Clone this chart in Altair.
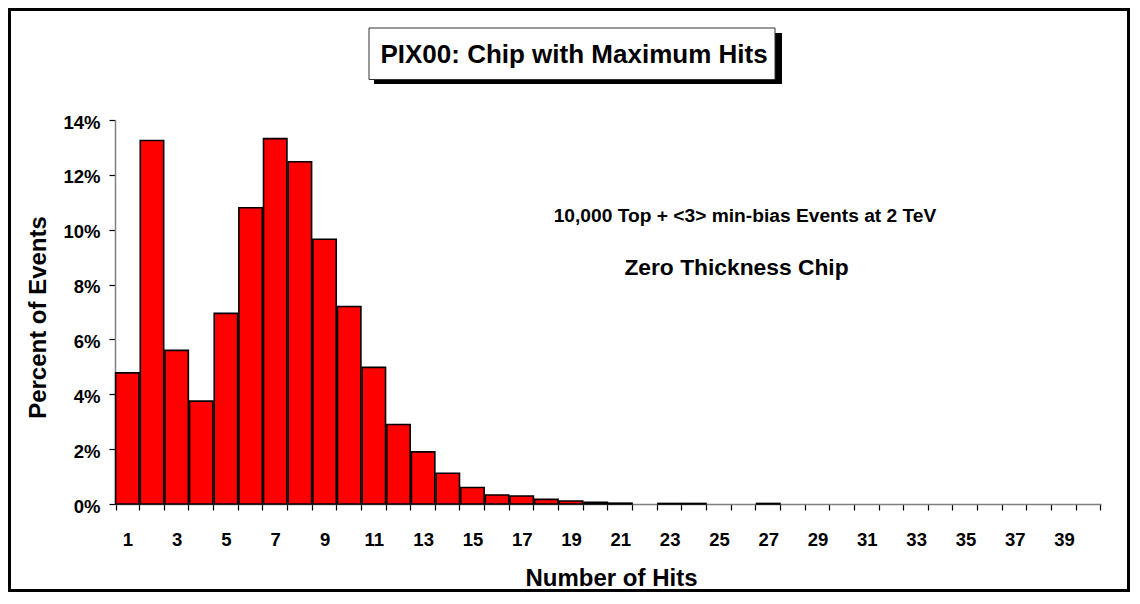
import altair as alt
import pandas as pd

# ---- data ----
hits = list(range(1, 41))
pct = [4.78, 13.25, 5.60, 3.75, 6.95, 10.80, 13.32, 12.48, 9.65, 7.20,
       4.98, 2.90, 1.90, 1.12, 0.60, 0.33, 0.29, 0.17, 0.11, 0.06,
       0.03, 0.00, 0.02, 0.02, 0.00, 0.00, 0.02, 0.00, 0.00, 0.00,
       0.00, 0.00, 0.00, 0.00, 0.00, 0.00, 0.00, 0.00, 0.00, 0.00]
y_ticks = [0, 2, 4, 6, 8, 10, 12, 14]
title_text = ["PIX00: Chip with Maximum Hits"]
note1 = ["10,000 Top + <3> min-bias Events at 2 TeV"]
note2 = ["Zero Thickness Chip"]

df = pd.DataFrame({"hits": hits, "pct": pct})
one = pd.DataFrame({"k": [0]})

FONT = "Liberation Sans"
W, H = 986, 384
PAD = {"left": 107, "top": 112, "right": 29, "bottom": 88}
TOTAL_W = PAD["left"] + W + PAD["right"]
TOTAL_H = PAD["top"] + H + PAD["bottom"]

bars = alt.Chart(df).transform_filter("datum.pct > 0").mark_bar(
    color="#ff0000", stroke="black", strokeWidth=1.6
).encode(
    x=alt.X(
        "hits:O",
        scale=alt.Scale(domain=hits, paddingInner=0.05, paddingOuter=0.025),
        axis=alt.Axis(
            title="Number of Hits",
            labelExpr="datum.value % 2 == 1 ? datum.label : ''",
            labelOverlap=False,
            tickBand="extent",
            labelAngle=0,
            labelPadding=20,
            titleX=496, titleY=81, titleAlign="center", titleBaseline="alphabetic",
        ),
    ),
    y=alt.Y(
        "pct:Q",
        scale=alt.Scale(domain=[0, 14], nice=False),
        axis=alt.Axis(
            values=y_ticks,
            labelExpr="datum.value + '%'",
            title="Percent of Events",
            labelPadding=9,
            labelOffset=2,
            titleAngle=270, titleX=-70, titleY=197,
            titleAlign="center", titleBaseline="alphabetic",
        ),
    ),
)

# outer frame around the whole figure
frame = alt.Chart(one).mark_rect(fillOpacity=0, stroke="black", strokeWidth=3).encode(
    x=alt.value(-PAD["left"] + 1.5), x2=alt.value(TOTAL_W - PAD["left"] - 1.5),
    y=alt.value(-PAD["top"] + 1.5), y2=alt.value(TOTAL_H - PAD["top"] - 1.5),
)

# title box with drop shadow
shadow = alt.Chart(one).mark_rect(color="black").encode(
    x=alt.value(259), x2=alt.value(667), y=alt.value(-87), y2=alt.value(-36),
)
box = alt.Chart(one).mark_rect(fill="white", stroke="#333333", strokeWidth=1).encode(
    x=alt.value(254), x2=alt.value(660), y=alt.value(-92), y2=alt.value(-40.5),
)
title = alt.Chart(pd.DataFrame({"t": title_text})).mark_text(
    font=FONT, fontWeight="bold", fontSize=26, color="black",
    align="center", baseline="alphabetic",
).encode(x=alt.value(459), y=alt.value(-57), text="t:N")

n1 = alt.Chart(pd.DataFrame({"t": note1})).mark_text(
    font=FONT, fontWeight="bold", fontSize=19.2, color="black",
    align="center", baseline="alphabetic",
).encode(x=alt.value(630), y=alt.value(102), text="t:N")

n2 = alt.Chart(pd.DataFrame({"t": note2})).mark_text(
    font=FONT, fontWeight="bold", fontSize=22.8, color="black",
    align="center", baseline="alphabetic",
).encode(x=alt.value(621.5), y=alt.value(154.5), text="t:N")

chart = alt.layer(frame, bars, shadow, box, title, n1, n2).properties(
    width=W, height=H,
    autosize=alt.AutoSizeParams(type="none"),
    padding=PAD,
    background="white",
).configure(font=FONT).configure_view(strokeWidth=0).configure_axis(
    grid=False,
    domainColor="#808080", domainWidth=1.5,
    tickColor="black", tickWidth=1.2, tickSize=6,
    labelFont=FONT, labelFontSize=18.5, labelFontWeight="bold", labelColor="black",
    titleFont=FONT, titleFontSize=24, titleFontWeight="bold", titleColor="black",
)

chart.save("out.html", embed_options={"renderer": "svg", "actions": False})
